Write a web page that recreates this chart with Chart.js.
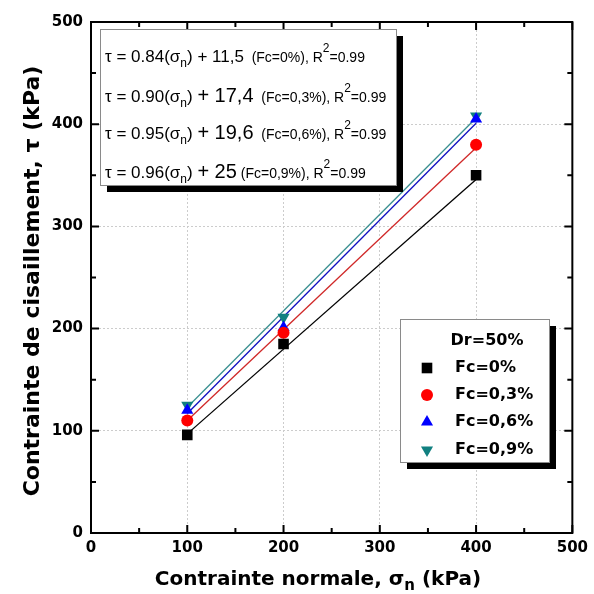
<!DOCTYPE html>
<html>
<head>
<meta charset="utf-8">
<script src="https://cdn.jsdelivr.net/npm/chart.js@4.4.0/dist/chart.umd.min.js"></script>
<style>
  html, body { margin: 0; padding: 0; background: #fff; }
  #wrap { width: 594px; height: 594px; }
</style>
</head>
<body>
<div id="wrap"><canvas id="chart" width="594" height="594"></canvas></div>
<script>
// normal stress (kPa) and measured shear stress (kPa) per fines content
const xValues = [100, 200, 400];
const tauFc0 = [96, 185, 350];
const tauFc03 = [110, 196, 380];
const tauFc06 = [120, 201, 405];
const tauFc09 = [125, 211, 408];

// fitted lines, end points
const fitX = [100, 400];
const fitFc0 = [97, 346];
const fitFc03 = [110, 377];
const fitFc06 = [117, 401];
const fitFc09 = [123, 406];

const axisTicks = [0, 100, 200, 300, 400, 500];
const seriesNames = ['Fc=0%', 'Fc=0,3%', 'Fc=0,6%', 'Fc=0,9%'];
const legendTitle = 'Dr=50%';
const eqSlopes = ['0.84', '0.90', '0.95', '0.96'];
const eqIntercepts = ['11,5', '17,4', '19,6', '25'];
const eqFc = ['(Fc=0%)', '(Fc=0,3%)', '(Fc=0,6%)', '(Fc=0,9%)'];
const eqR2 = ['0.99', '0.99', '0.99', '0.99'];

const markerColors = ['#000000', '#ff0000', '#0000ff', '#118080'];
const lineColors = ['#000000', '#d02828', '#1010c0', '#3a9090'];
const markerStyles = ['rect', 'circle', 'triangle', 'triangle'];
const markerRotation = [0, 0, 0, 180];
const markerRadius = [7.5, 6, 7, 7];
const interceptSize = [17, 20, 20, 20];

const xTitleFont = 'bold 20px "DejaVu Sans", sans-serif';
const yTitleFont = 'bold 22px "DejaVu Sans", sans-serif';
const tickFont = { family: '"DejaVu Sans", sans-serif', size: 15, weight: 'bold' };

function toPoints(xs, ys) {
  return xs.map((x, i) => ({ x: x, y: ys[i] }));
}

function drawRuns(ctx, x, y, runs) {
  runs.forEach((r) => {
    ctx.font = r.font;
    ctx.fillText(r.text, x, y + (r.shift || 0));
    x += ctx.measureText(r.text).width;
  });
  return x;
}

function drawMarker(ctx, style, rot, r, x, y, color) {
  ctx.save();
  ctx.fillStyle = color;
  ctx.beginPath();
  if (style === 'rect') {
    const s = r * Math.SQRT1_2;
    ctx.rect(x - s, y - s, 2 * s, 2 * s);
  } else if (style === 'circle') {
    ctx.arc(x, y, r, 0, Math.PI * 2);
  } else {
    const dir = rot === 180 ? -1 : 1;
    ctx.moveTo(x, y - dir * r);
    ctx.lineTo(x - r * 0.866, y + dir * r * 0.5);
    ctx.lineTo(x + r * 0.866, y + dir * r * 0.5);
    ctx.closePath();
  }
  ctx.fill();
  ctx.restore();
}

function shadowBox(ctx, x, y, w, h) {
  ctx.fillStyle = '#000';
  ctx.fillRect(x + 7, y + 7, w, h);
  ctx.fillStyle = '#fff';
  ctx.fillRect(x, y, w, h);
  ctx.strokeStyle = '#8a8a8a';
  ctx.lineWidth = 1;
  ctx.strokeRect(x + 0.5, y + 0.5, w, h);
}

const framePlugin = {
  id: 'frame',
  afterDraw(chart) {
    const { ctx, chartArea: a, scales } = chart;
    ctx.save();
    // inward ticks on all four sides
    ctx.strokeStyle = '#000';
    ctx.lineWidth = 2;
    for (let v = 0; v <= 500; v += 50) {
      const len = v % 100 === 0 ? 8 : 5;
      const px = scales.x.getPixelForValue(v);
      const py = scales.y.getPixelForValue(v);
      ctx.beginPath();
      ctx.moveTo(px, a.bottom); ctx.lineTo(px, a.bottom - len);
      ctx.moveTo(px, a.top); ctx.lineTo(px, a.top + len);
      ctx.moveTo(a.left, py); ctx.lineTo(a.left + len, py);
      ctx.moveTo(a.right, py); ctx.lineTo(a.right - len, py);
      ctx.stroke();
    }
    ctx.strokeRect(a.left, a.top, a.right - a.left, a.bottom - a.top);

    // axis titles
    ctx.fillStyle = '#000';
    ctx.textBaseline = 'alphabetic';
    const subFont = 'bold 15px "DejaVu Sans", sans-serif';
    const xt1 = 'Contrainte normale, σ';
    const xt2 = ' (kPa)';
    ctx.font = xTitleFont;
    const w1 = ctx.measureText(xt1).width;
    const w3 = ctx.measureText(xt2).width;
    ctx.font = subFont;
    const w2 = ctx.measureText('n').width;
    const sx = 318 - (w1 + w2 + w3) / 2;
    drawRuns(ctx, sx, 585, [
      { text: xt1, font: xTitleFont },
      { text: 'n', font: subFont, shift: 5 },
      { text: xt2, font: xTitleFont }
    ]);

    ctx.save();
    ctx.translate(33, 281);
    ctx.rotate(-Math.PI / 2);
    ctx.font = yTitleFont;
    ctx.textAlign = 'center';
    ctx.textBaseline = 'middle';
    ctx.fillText('Contrainte de cisaillement, τ (kPa)', 0, 0);
    ctx.restore();

    // equation box
    shadowBox(ctx, 100, 29, 296, 156);
    ctx.fillStyle = '#000';
    ctx.textAlign = 'left';
    ctx.textBaseline = 'alphabetic';
    const main = '17px "Liberation Sans", Arial, sans-serif';
    const small = '14px "Liberation Sans", Arial, sans-serif';
    const tiny = '12px "Liberation Sans", Arial, sans-serif';
    const baselines = [62, 102, 139, 178];
    eqSlopes.forEach((s, i) => {
      drawRuns(ctx, 105, baselines[i], [
        { text: 'τ = ' + s + '(σ', font: main },
        { text: 'n', font: tiny, shift: 5 },
        { text: ') ', font: main },
        { text: '+ ' + eqIntercepts[i], font: interceptSize[i] + 'px "Liberation Sans", Arial, sans-serif' },
        { text: (i === 3 ? ' ' : '  ') + eqFc[i] + ', R', font: small },
        { text: '2', font: tiny, shift: -10 },
        { text: '=' + eqR2[i], font: small }
      ]);
    });

    // legend box
    shadowBox(ctx, 400, 319, 149, 143);
    const legFont = 'bold 16px "DejaVu Sans", sans-serif';
    ctx.font = legFont;
    ctx.fillStyle = '#000';
    ctx.textBaseline = 'middle';
    ctx.textAlign = 'center';
    ctx.fillText(legendTitle, 487, 341);
    ctx.textAlign = 'left';
    const rows = [368, 395, 422, 450];
    seriesNames.forEach((name, i) => {
      drawMarker(ctx, markerStyles[i], markerRotation[i], markerRadius[i], 427, rows[i], markerColors[i]);
      ctx.fillStyle = '#000';
      ctx.font = legFont;
      ctx.fillText(name, 455, rows[i]);
    });
    ctx.restore();
  }
};

const measured = [tauFc0, tauFc03, tauFc06, tauFc09];
const fitted = [fitFc0, fitFc03, fitFc06, fitFc09];

const datasets = [];
measured.forEach((ys, i) => {
  datasets.push({
    label: seriesNames[i],
    data: toPoints(xValues, ys),
    showLine: false,
    pointStyle: markerStyles[i],
    rotation: markerRotation[i],
    pointRadius: markerRadius[i],
    backgroundColor: markerColors[i],
    borderColor: markerColors[i],
    borderWidth: 0,
    order: 1
  });
});
fitted.forEach((ys, i) => {
  datasets.push({
    label: 'fit ' + seriesNames[i],
    data: toPoints(fitX, ys),
    showLine: true,
    pointRadius: 0,
    borderColor: lineColors[i],
    borderWidth: 1.3,
    fill: false,
    order: 2
  });
});

new Chart(document.getElementById('chart'), {
  type: 'scatter',
  data: { datasets },
  options: {
    responsive: false,
    animation: false,
    layout: { padding: { top: 22, right: 20, left: 0, bottom: 0 } },
    plugins: { legend: { display: false }, tooltip: { enabled: false } },
    scales: {
      x: {
        type: 'linear', min: 0, max: 500,
        afterFit(scale) { scale.height = 61; },
        afterBuildTicks(scale) { scale.ticks = axisTicks.map((v) => ({ value: v })); },
        ticks: { color: '#000', font: tickFont, padding: 6 },
        grid: { color: '#cccccc', lineWidth: 1, drawTicks: false },
        border: { display: false, dash: [2, 2] }
      },
      y: {
        type: 'linear', min: 0, max: 500,
        afterFit(scale) { scale.width = 91; },
        afterBuildTicks(scale) { scale.ticks = axisTicks.map((v) => ({ value: v })); },
        ticks: { color: '#000', font: tickFont, padding: 8 },
        grid: { color: '#cccccc', lineWidth: 1, drawTicks: false },
        border: { display: false, dash: [2, 2] }
      }
    }
  },
  plugins: [framePlugin]
});
</script>
</body>
</html>
